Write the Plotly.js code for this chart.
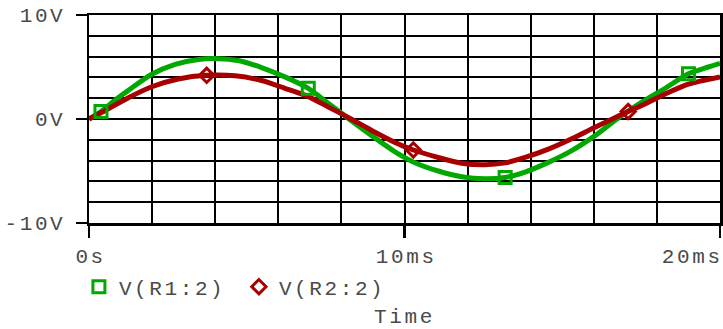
<!DOCTYPE html>
<html>
<head>
<meta charset="utf-8">
<script src="https://cdn.plot.ly/plotly-3.0.1.min.js"></script>
<style>
  html, body { margin: 0; padding: 0; background: #fff; }
  #plot { width: 723px; height: 329px; }
  #plot text { letter-spacing: 2.6px; }
</style>
</head>
<body>
<div id="plot"></div>
<script>
// ---- data (time in ms, voltage in V) ----
const seriesNames = ['V(R1:2)', 'V(R2:2)'];
const r1Time = [0, 0.38, 0.8, 1.25, 1.99, 2.73, 3.47, 4.1, 4.72, 5.47, 6.21, 6.95, 7.59, 8.22, 8.96, 9.70, 10.33, 11.07, 11.81, 12.55, 13.19, 13.82, 14.56, 15.30, 16.04, 16.78, 17.52, 18.26, 19.0, 19.63, 20];
const r1Volt = [0, 0.72, 1.75, 2.75, 4.3, 5.25, 5.72, 5.8, 5.62, 4.95, 4.05, 2.95, 1.5, 0.05, -1.6, -3.15, -4.2, -5.0, -5.55, -5.75, -5.62, -5.1, -4.17, -3.04, -1.6, 0.1, 1.62, 2.95, 4.35, 5.0, 5.35];
const r1MarkerIdx = [1, 11, 20, 28];
const r2Time = [0, 0.38, 1.25, 1.99, 2.83, 3.73, 4.63, 5.47, 6.21, 6.95, 7.59, 8.22, 8.96, 9.70, 10.28, 11.07, 11.81, 12.55, 13.19, 13.82, 14.56, 15.30, 16.04, 17.09, 17.52, 18.26, 19.0, 20];
const r2Volt = [0, 0.6, 2.05, 3.1, 3.85, 4.2, 4.15, 3.7, 2.95, 2.15, 1.15, 0.15, -1.1, -2.25, -2.98, -3.7, -4.25, -4.4, -4.22, -3.7, -2.9, -1.9, -0.8, 0.72, 1.3, 2.4, 3.35, 4.05];
const r2MarkerIdx = [5, 14, 23];
const xTickVals = [0, 10, 20];
const xTickLabels = ['0s', '10ms', '20ms'];
const yTickVals = [-10, 0, 10];
const yTickLabels = ['-10V', '0V', '10V'];
const xAxisTitle = 'Time';

const GREEN = '#00a800';
const RED = '#a80000';
const FONT = 'Liberation Mono, DejaVu Sans Mono, monospace';
const TXT = '#4a4a4a';
const FS = 21;

function pick(arr, idx) { return idx.map(i => arr[i]); }

const traces = [
  { x: r1Time, y: r1Volt, mode: 'lines', line: { color: GREEN, width: 5, shape: 'spline', smoothing: 0.8 }, showlegend: false, hoverinfo: 'skip' },
  { x: r2Time, y: r2Volt, mode: 'lines', line: { color: RED, width: 5, shape: 'spline', smoothing: 0.8 }, showlegend: false, hoverinfo: 'skip' },
  { x: pick(r1Time, r1MarkerIdx), y: pick(r1Volt, r1MarkerIdx), mode: 'markers', name: seriesNames[0],
    marker: { symbol: 'square-open', size: 12, color: GREEN, line: { color: GREEN, width: 3 } } },
  { x: pick(r2Time, r2MarkerIdx), y: pick(r2Volt, r2MarkerIdx), mode: 'markers', name: seriesNames[1],
    marker: { symbol: 'diamond-open', size: 11, color: RED, line: { color: RED, width: 3 } } }
];

const annotations = xTickVals.map((v, i) => ({
  x: v, xref: 'x', y: 0, yref: 'paper', text: xTickLabels[i], showarrow: false,
  xanchor: i === xTickVals.length - 1 ? 'right' : 'center', yanchor: 'middle', yshift: -34,
  xshift: i === xTickVals.length - 1 ? -1 : 1,
  font: { family: FONT, size: FS, color: TXT }
}));

const layout = {
  width: 723, height: 329,
  margin: { l: 89, r: 3, t: 15, b: 106, pad: 0 },
  paper_bgcolor: '#fff', plot_bgcolor: '#fff',
  showlegend: true,
  legend: { orientation: 'h', x: -0.016, xanchor: 'left', y: -0.308, yanchor: 'middle',
            font: { family: FONT, size: FS, color: TXT }, entrywidth: 115, entrywidthmode: 'pixels',
            bgcolor: 'rgba(0,0,0,0)', borderwidth: 0, traceorder: 'normal' },
  xaxis: {
    range: [0, 20], tickvals: xTickVals, ticktext: xTickLabels, showticklabels: false,
    ticks: 'outside', ticklen: 12, tickwidth: 2.5, tickcolor: '#000',
    showgrid: true, gridcolor: '#000', gridwidth: 2,
    minor: { dtick: 2, showgrid: true, gridcolor: '#000', gridwidth: 2, ticks: '' },
    showline: true, linecolor: '#000', linewidth: 2.5, mirror: true, zeroline: false,
    title: { text: xAxisTitle, standoff: 72, font: { family: FONT, size: FS, color: TXT } }
  },
  yaxis: {
    range: [-10, 10], tickvals: yTickVals, ticktext: yTickLabels,
    ticks: 'outside', ticklen: 11, tickwidth: 2.5, tickcolor: '#000',
    ticklabelstandoff: 6,
    tickfont: { family: FONT, size: FS, color: TXT },
    showgrid: true, gridcolor: '#000', gridwidth: 2,
    minor: { dtick: 2, showgrid: true, gridcolor: '#000', gridwidth: 2, ticks: '' },
    showline: true, linecolor: '#000', linewidth: 2.5, mirror: true, zeroline: false
  },
  annotations: annotations
};

Plotly.newPlot('plot', traces, layout, { staticPlot: true, displayModeBar: false });
</script>
</body>
</html>
